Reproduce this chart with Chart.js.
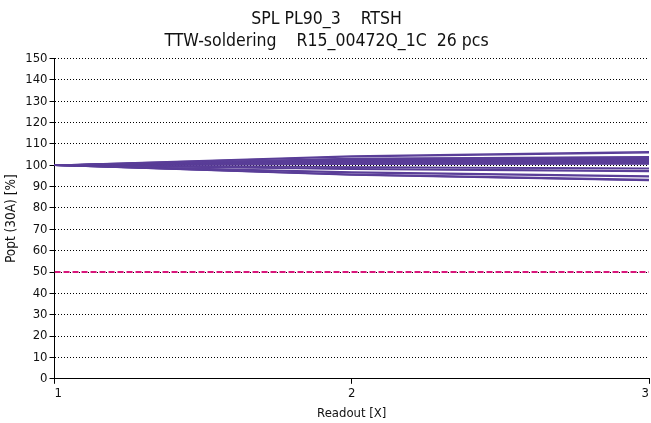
<!DOCTYPE html>
<html>
<head>
<meta charset="utf-8">
<script src="https://cdn.jsdelivr.net/npm/chart.js@4.4.1/dist/chart.umd.min.js"></script>
<style>
  html, body { margin: 0; padding: 0; background: #fff; }
</style>
</head>
<body>
<canvas id="chart" width="651" height="423"></canvas>
<script>
const readouts = [1, 2, 3];
const yTicks = [0, 10, 20, 30, 40, 50, 60, 70, 80, 90, 100, 110, 120, 130, 140, 150];
const limitValue = 50;

// Popt [%] per sample at readout 1, 2, 3
const samples = [
  [100, 104.3, 106.3],
  [100, 104.0, 105.8],
  [100, 103.2, 104.0],
  [100, 103.0, 103.7],
  [100, 102.8, 103.4],
  [100, 102.6, 103.2],
  [100, 102.5, 103.0],
  [100, 102.3, 102.7],
  [100, 102.1, 102.5],
  [100, 101.9, 102.2],
  [100, 101.7, 102.0],
  [100, 101.5, 101.8],
  [100, 101.3, 101.5],
  [100, 101.1, 101.3],
  [100, 100.9, 101.0],
  [100, 100.7, 100.8],
  [100, 100.5, 100.6],
  [100, 99.2, 98.6],
  [100, 99.0, 98.3],
  [100, 98.3, 97.4],
  [100, 98.1, 97.1],
  [100, 96.8, 95.0],
  [100, 96.5, 94.6],
  [100, 95.8, 93.3],
  [100, 95.6, 93.0],
  [100, 95.4, 92.8]
];

const font = "Tahoma, 'DejaVu Sans Condensed', 'DejaVu Sans', sans-serif";

const datasets = samples.map((vals, i) => ({
  label: 'S' + (i + 1),
  data: vals.map((v, j) => ({ x: readouts[j], y: v })),
  borderColor: '#5a3e98',
  borderWidth: 1.5,
  pointRadius: 0,
  tension: 0,
  fill: false
}));

datasets.push({
  label: 'limit',
  data: readouts.map((r) => ({ x: r, y: limitValue })),
  borderColor: '#d8167a',
  borderWidth: 2,
  borderDash: [6, 3],
  pointRadius: 0,
  fill: false
});

new Chart(document.getElementById('chart').getContext('2d'), {
  type: 'line',
  data: { datasets: datasets },
  options: {
    responsive: false,
    animation: false,
    layout: { padding: { left: 3, right: 1, top: 1, bottom: 2 } },
    plugins: {
      legend: { display: false },
      tooltip: { enabled: false },
      title: {
        display: true,
        text: ['SPL PL90_3    RTSH', 'TTW-soldering    R15_00472Q_1C  26 pcs'],
        color: '#111',
        font: { family: font, size: 17.5, weight: 'normal', lineHeight: 1.27 },
        padding: { top: 7, bottom: 6 }
      }
    },
    scales: {
      x: {
        type: 'linear',
        min: 1,
        max: 3,
        afterBuildTicks: (scale) => { scale.ticks = readouts.map((v) => ({ value: v })); },
        ticks: { color: '#111', font: { family: font, size: 13 }, align: 'inner', padding: 2 },
        grid: { drawOnChartArea: false, drawTicks: true, tickLength: 5, color: '#000' },
        border: { display: true, color: '#000', width: 1 },
        title: { display: true, text: 'Readout [X]', color: '#111', font: { family: font, size: 13 }, padding: { top: 2, bottom: 0 } }
      },
      y: {
        min: 0,
        max: 150,
        afterBuildTicks: (scale) => { scale.ticks = yTicks.map((v) => ({ value: v })); },
        ticks: { color: '#111', font: { family: font, size: 13 }, padding: 2 },
        grid: { color: '#000', lineWidth: 1, tickLength: 5, tickColor: '#000' },
        border: { display: true, color: '#000', width: 1, dash: [1, 2] },
        title: { display: true, text: 'Popt (30A) [%]', color: '#111', font: { family: font, size: 13.5 }, padding: { top: 0, bottom: 4 } }
      }
    }
  }
});
</script>
</body>
</html>
